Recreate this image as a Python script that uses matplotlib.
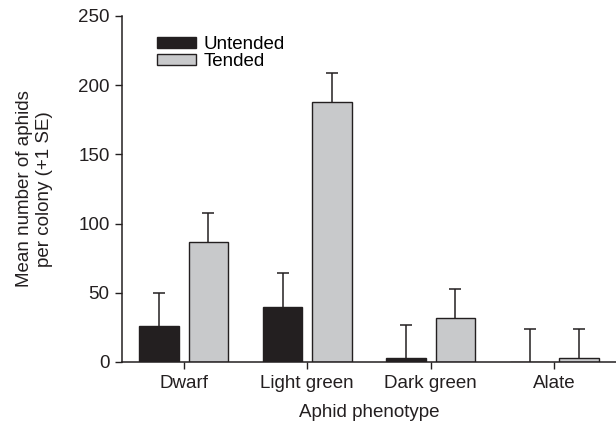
import matplotlib
matplotlib.use("Agg")
import matplotlib.pyplot as plt
import numpy as np

plt.rcParams['font.family'] = ['Liberation Sans', 'DejaVu Sans']

categories = ["Dwarf", "Light green", "Dark green", "Alate"]
untended = [26, 40, 3, 0]
untended_se = [24, 24, 24, 24]
tended = [87, 188, 32, 3]
tended_se = [21, 21, 21, 21]

FS = 13.5
fig = plt.figure(figsize=(6.16, 4.30), dpi=100)
ax = fig.add_axes([122/616, 1-362/430, 1-122/616, (362-16)/430])

x = np.arange(len(categories))
off = 0.2
w = 0.32
ink = "#231f20"
dark = "#231f20"
light = "#c8c9cb"
ekw = dict(elinewidth=1.1, capthick=1.1, capsize=4.3, ecolor=ink)

ax.bar(x - off, untended, w, color=dark, edgecolor=ink, linewidth=1,
       label="Untended", zorder=2)
eb1 = ax.errorbar(x - off, untended, yerr=[np.zeros(4), untended_se], fmt="none", zorder=1, **ekw)
ax.bar(x + off, tended, w, color=light, edgecolor=ink, linewidth=1,
       label="Tended", zorder=2)
eb2 = ax.errorbar(x + off, tended, yerr=[np.zeros(4), tended_se], fmt="none", zorder=1, **ekw)
for eb in (eb1, eb2):
    eb[1][0].set_visible(False)

ax.set_xlim(-0.5, 3.5)
ax.set_ylim(0, 250)
ax.set_yticks([0, 50, 100, 150, 200, 250])
ax.set_xticks(x)
ax.set_xticklabels(categories)
ax.spines['top'].set_visible(False)
ax.spines['right'].set_visible(False)
for s in ['left', 'bottom']:
    ax.spines[s].set_linewidth(1.1)
    ax.spines[s].set_color(ink)
ax.tick_params(axis='both', direction='out', length=5, width=1, labelsize=FS,
               colors=ink, pad=4)
ax.set_xlabel("Aphid phenotype", fontsize=FS, labelpad=9, color=ink)
ax.set_ylabel("Mean number of aphids\nper colony (+1 SE)", fontsize=FS,
              labelpad=18, color=ink)

leg = ax.legend(loc="upper left", bbox_to_anchor=(157/616, 1-36/430),
                bbox_transform=fig.transFigure, frameon=False, fontsize=FS,
                handlelength=2.1, handleheight=0.5, labelspacing=0.0,
                handletextpad=0.4, borderpad=0, borderaxespad=0)

fig.savefig("out.png", dpi=100)
